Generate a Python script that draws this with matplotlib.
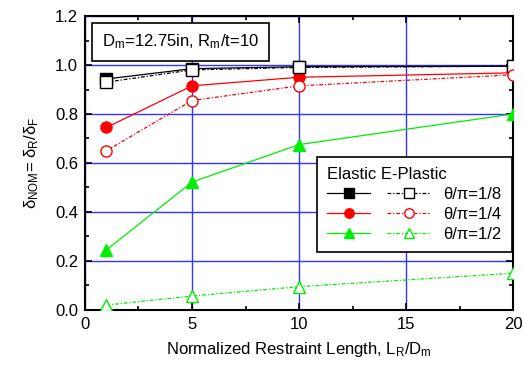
import matplotlib
matplotlib.use('Agg')
import matplotlib.pyplot as plt
from matplotlib.legend_handler import HandlerTuple
from matplotlib.ticker import MultipleLocator, FormatStrFormatter

plt.rcParams['font.family'] = ['Liberation Sans', 'DejaVu Sans']
plt.rcParams['mathtext.default'] = 'regular'

x = [1, 5, 10, 20]
el_18 = [0.943, 0.985, 0.993, 0.995]
ep_18 = [0.93, 0.98, 0.99, 0.995]
el_14 = [0.745, 0.915, 0.95, 0.968]
ep_14 = [0.65, 0.855, 0.915, 0.96]
el_12 = [0.245, 0.522, 0.675, 0.80]
ep_12 = [0.02, 0.057, 0.095, 0.15]
labels = ['\u03b8/\u03c0=1/8', '\u03b8/\u03c0=1/4', '\u03b8/\u03c0=1/2']

fig = plt.figure(figsize=(5.23, 3.69), dpi=100)
ax = fig.add_axes([0.1625, 0.160, 0.8185, 0.7966])

green = '#00ee00'
pairs = []
for yel, yep, c, m in [(el_18, ep_18, 'black', 's'),
                       (el_14, ep_14, 'red', 'o'),
                       (el_12, ep_12, green, '^')]:
    h1, = ax.plot(x, yel, '-', color=c, marker=m, ms=8, lw=0.9,
                  mfc=c, mec=c, zorder=4)
    h2, = ax.plot(x, yep, linestyle=(0, (3, 1.5, 1, 1.5)), color=c, marker=m,
                  ms=8, lw=0.9, mfc='white', mec=c, zorder=5)
    pairs.append((h1, h2))

ax.set_xlim(0, 20)
ax.set_ylim(0, 1.2)
ax.xaxis.set_major_locator(MultipleLocator(5))
ax.xaxis.set_minor_locator(MultipleLocator(2.5))
ax.yaxis.set_major_locator(MultipleLocator(0.2))
ax.yaxis.set_minor_locator(MultipleLocator(0.1))
ax.yaxis.set_major_formatter(FormatStrFormatter('%.1f'))
ax.tick_params(which='both', direction='in', top=True, right=True,
               labelsize=12, width=1.2)
ax.tick_params(which='major', length=5, pad=5)
ax.tick_params(which='minor', length=3)
for sp in ax.spines.values():
    sp.set_linewidth(1.5)
ax.grid(True, which='major', color='#3333ff', lw=1.0)

ax.set_xlabel(r'Normalized Restraint Length, L$_R$/D$_m$', fontsize=12,
              labelpad=6)
ax.set_ylabel(r'$\delta_{NOM}$= $\delta_R$/$\delta_F$', fontsize=12,
              labelpad=10)

ax.text(0.8, 1.094, r'D$_m$=12.75in, R$_m$/t=10', fontsize=12, va='center',
        ha='left', zorder=6,
        bbox=dict(boxstyle='square,pad=0.6', fc='white', ec='black', lw=1.2))

leg = ax.legend(pairs, labels, title='Elastic E-Plastic',
                handler_map={tuple: HandlerTuple(ndivide=None, pad=1.0)},
                handlelength=6.2, loc='lower right', borderaxespad=0,
                bbox_to_anchor=(0.997, 0.197), fontsize=12, title_fontsize=12,
                frameon=True, fancybox=False, edgecolor='black',
                framealpha=1, borderpad=0.6, labelspacing=0.3,
                handletextpad=0.8, markerscale=0.85)
leg.get_frame().set_linewidth(1.2)
leg._legend_box.align = 'left'

fig.savefig('out.png', dpi=100)
